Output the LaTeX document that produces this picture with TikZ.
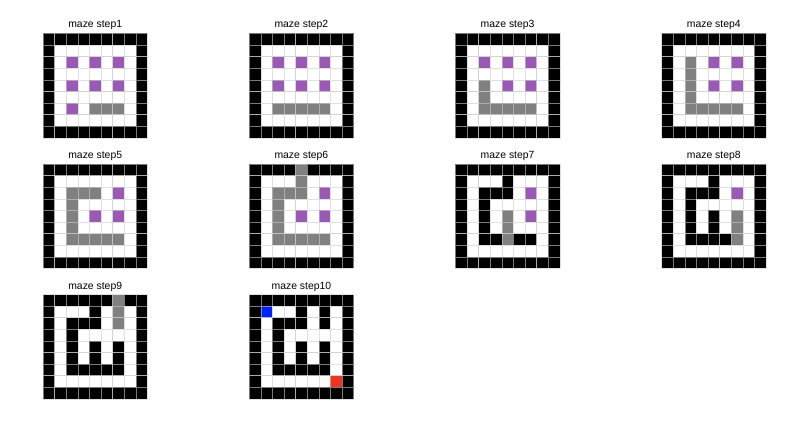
\documentclass[tikz,border=0pt]{standalone}
\usepackage{fontspec}
\setmainfont{Liberation Sans}
\definecolor{mzB}{HTML}{000000}
\definecolor{mzW}{HTML}{FFFFFF}
\definecolor{mzP}{HTML}{9B59B6}
\definecolor{mzG}{HTML}{808080}
\definecolor{mzU}{HTML}{0022FF}
\definecolor{mzR}{HTML}{EE3322}
\definecolor{mzL}{HTML}{CCCCCC}
\tikzset{
  mztitle/.style={font=\fontsize{10.4}{12}\selectfont, anchor=base, inner sep=0pt},
  mzline/.style={draw=mzL, draw opacity=0.6, line width=0.6pt}
}
\newcommand{\mzcell}{11.6}
% #1 name, #2 x, #3 y, #4 title, #5 rows
\newcommand{\mazegrid}[5]{%
  \begin{scope}[shift={(#2,#3)}]
    \foreach \rw [count=\i from 0] in {#5} {
      \foreach \cl [count=\j from 0] in \rw {
        \fill[fill=mz\cl, mzline] (\j*\mzcell,\i*\mzcell) rectangle ++(\mzcell,\mzcell);
      }
    }
    \node[mztitle] (#1) at (4.5*\mzcell,-5.5) {#4};
  \end{scope}
}
\begin{document}
\begin{tikzpicture}[x=1pt,y=-1pt]
\fill[white] (0,0) rectangle (800,428);
\useasboundingbox (0,0) rectangle (800,428);
\mazegrid{t1}{43}{33.5}{maze step1}{
{B,B,B,B,B,B,B,B,B},
{B,W,W,W,W,W,W,W,B},
{B,W,P,W,P,W,P,W,B},
{B,W,W,W,W,W,W,W,B},
{B,W,P,W,P,W,P,W,B},
{B,W,W,W,W,W,W,W,B},
{B,W,P,W,G,G,G,W,B},
{B,W,W,W,W,W,W,W,B},
{B,B,B,B,B,B,B,B,B}}
\mazegrid{t2}{249.2}{33.5}{maze step2}{
{B,B,B,B,B,B,B,B,B},
{B,W,W,W,W,W,W,W,B},
{B,W,P,W,P,W,P,W,B},
{B,W,W,W,W,W,W,W,B},
{B,W,P,W,P,W,P,W,B},
{B,W,W,W,W,W,W,W,B},
{B,W,G,G,G,G,G,W,B},
{B,W,W,W,W,W,W,W,B},
{B,B,B,B,B,B,B,B,B}}
\mazegrid{t3}{455.4}{33.5}{maze step3}{
{B,B,B,B,B,B,B,B,B},
{B,W,W,W,W,W,W,W,B},
{B,W,P,W,P,W,P,W,B},
{B,W,W,W,W,W,W,W,B},
{B,W,G,W,P,W,P,W,B},
{B,W,G,W,W,W,W,W,B},
{B,W,G,G,G,G,G,W,B},
{B,W,W,W,W,W,W,W,B},
{B,B,B,B,B,B,B,B,B}}
\mazegrid{t4}{661.6}{33.5}{maze step4}{
{B,B,B,B,B,B,B,B,B},
{B,W,W,W,W,W,W,W,B},
{B,W,G,W,P,W,P,W,B},
{B,W,G,W,W,W,W,W,B},
{B,W,G,W,P,W,P,W,B},
{B,W,G,W,W,W,W,W,B},
{B,W,G,G,G,G,G,W,B},
{B,W,W,W,W,W,W,W,B},
{B,B,B,B,B,B,B,B,B}}
\mazegrid{t5}{43}{164}{maze step5}{
{B,B,B,B,B,B,B,B,B},
{B,W,W,W,W,W,W,W,B},
{B,W,G,G,G,W,P,W,B},
{B,W,G,W,W,W,W,W,B},
{B,W,G,W,P,W,P,W,B},
{B,W,G,W,W,W,W,W,B},
{B,W,G,G,G,G,G,W,B},
{B,W,W,W,W,W,W,W,B},
{B,B,B,B,B,B,B,B,B}}
\mazegrid{t6}{249.2}{164}{maze step6}{
{B,B,B,B,G,B,B,B,B},
{B,W,W,W,G,W,W,W,B},
{B,W,G,G,G,W,P,W,B},
{B,W,G,W,W,W,W,W,B},
{B,W,G,W,P,W,P,W,B},
{B,W,G,W,W,W,W,W,B},
{B,W,G,G,G,G,G,W,B},
{B,W,W,W,W,W,W,W,B},
{B,B,B,B,B,B,B,B,B}}
\mazegrid{t7}{455.4}{164}{maze step7}{
{B,B,B,B,B,B,B,B,B},
{B,W,W,W,B,W,W,W,B},
{B,W,B,B,B,W,P,W,B},
{B,W,B,W,W,W,W,W,B},
{B,W,B,W,G,W,P,W,B},
{B,W,B,W,G,W,W,W,B},
{B,W,B,B,G,B,B,W,B},
{B,W,W,W,W,W,W,W,B},
{B,B,B,B,B,B,B,B,B}}
\mazegrid{t8}{661.6}{164}{maze step8}{
{B,B,B,B,B,B,B,B,B},
{B,W,W,W,B,W,W,W,B},
{B,W,B,B,B,W,P,W,B},
{B,W,B,W,W,W,W,W,B},
{B,W,B,W,B,W,G,W,B},
{B,W,B,W,B,W,G,W,B},
{B,W,B,B,B,B,G,W,B},
{B,W,W,W,W,W,W,W,B},
{B,B,B,B,B,B,B,B,B}}
\mazegrid{t9}{43}{294.5}{maze step9}{
{B,B,B,B,B,B,G,B,B},
{B,W,W,W,B,W,G,W,B},
{B,W,B,B,B,W,G,W,B},
{B,W,B,W,W,W,W,W,B},
{B,W,B,W,B,W,B,W,B},
{B,W,B,W,B,W,B,W,B},
{B,W,B,B,B,B,B,W,B},
{B,W,W,W,W,W,W,W,B},
{B,B,B,B,B,B,B,B,B}}
\mazegrid{t10}{249.2}{294.5}{maze step10}{
{B,B,B,B,B,B,B,B,B},
{B,U,W,W,B,W,B,W,B},
{B,W,B,B,B,W,B,W,B},
{B,W,B,W,W,W,W,W,B},
{B,W,B,W,B,W,B,W,B},
{B,W,B,W,B,W,B,W,B},
{B,W,B,B,B,B,B,W,B},
{B,W,W,W,W,W,W,R,B},
{B,B,B,B,B,B,B,B,B}}
\end{tikzpicture}
\end{document}
